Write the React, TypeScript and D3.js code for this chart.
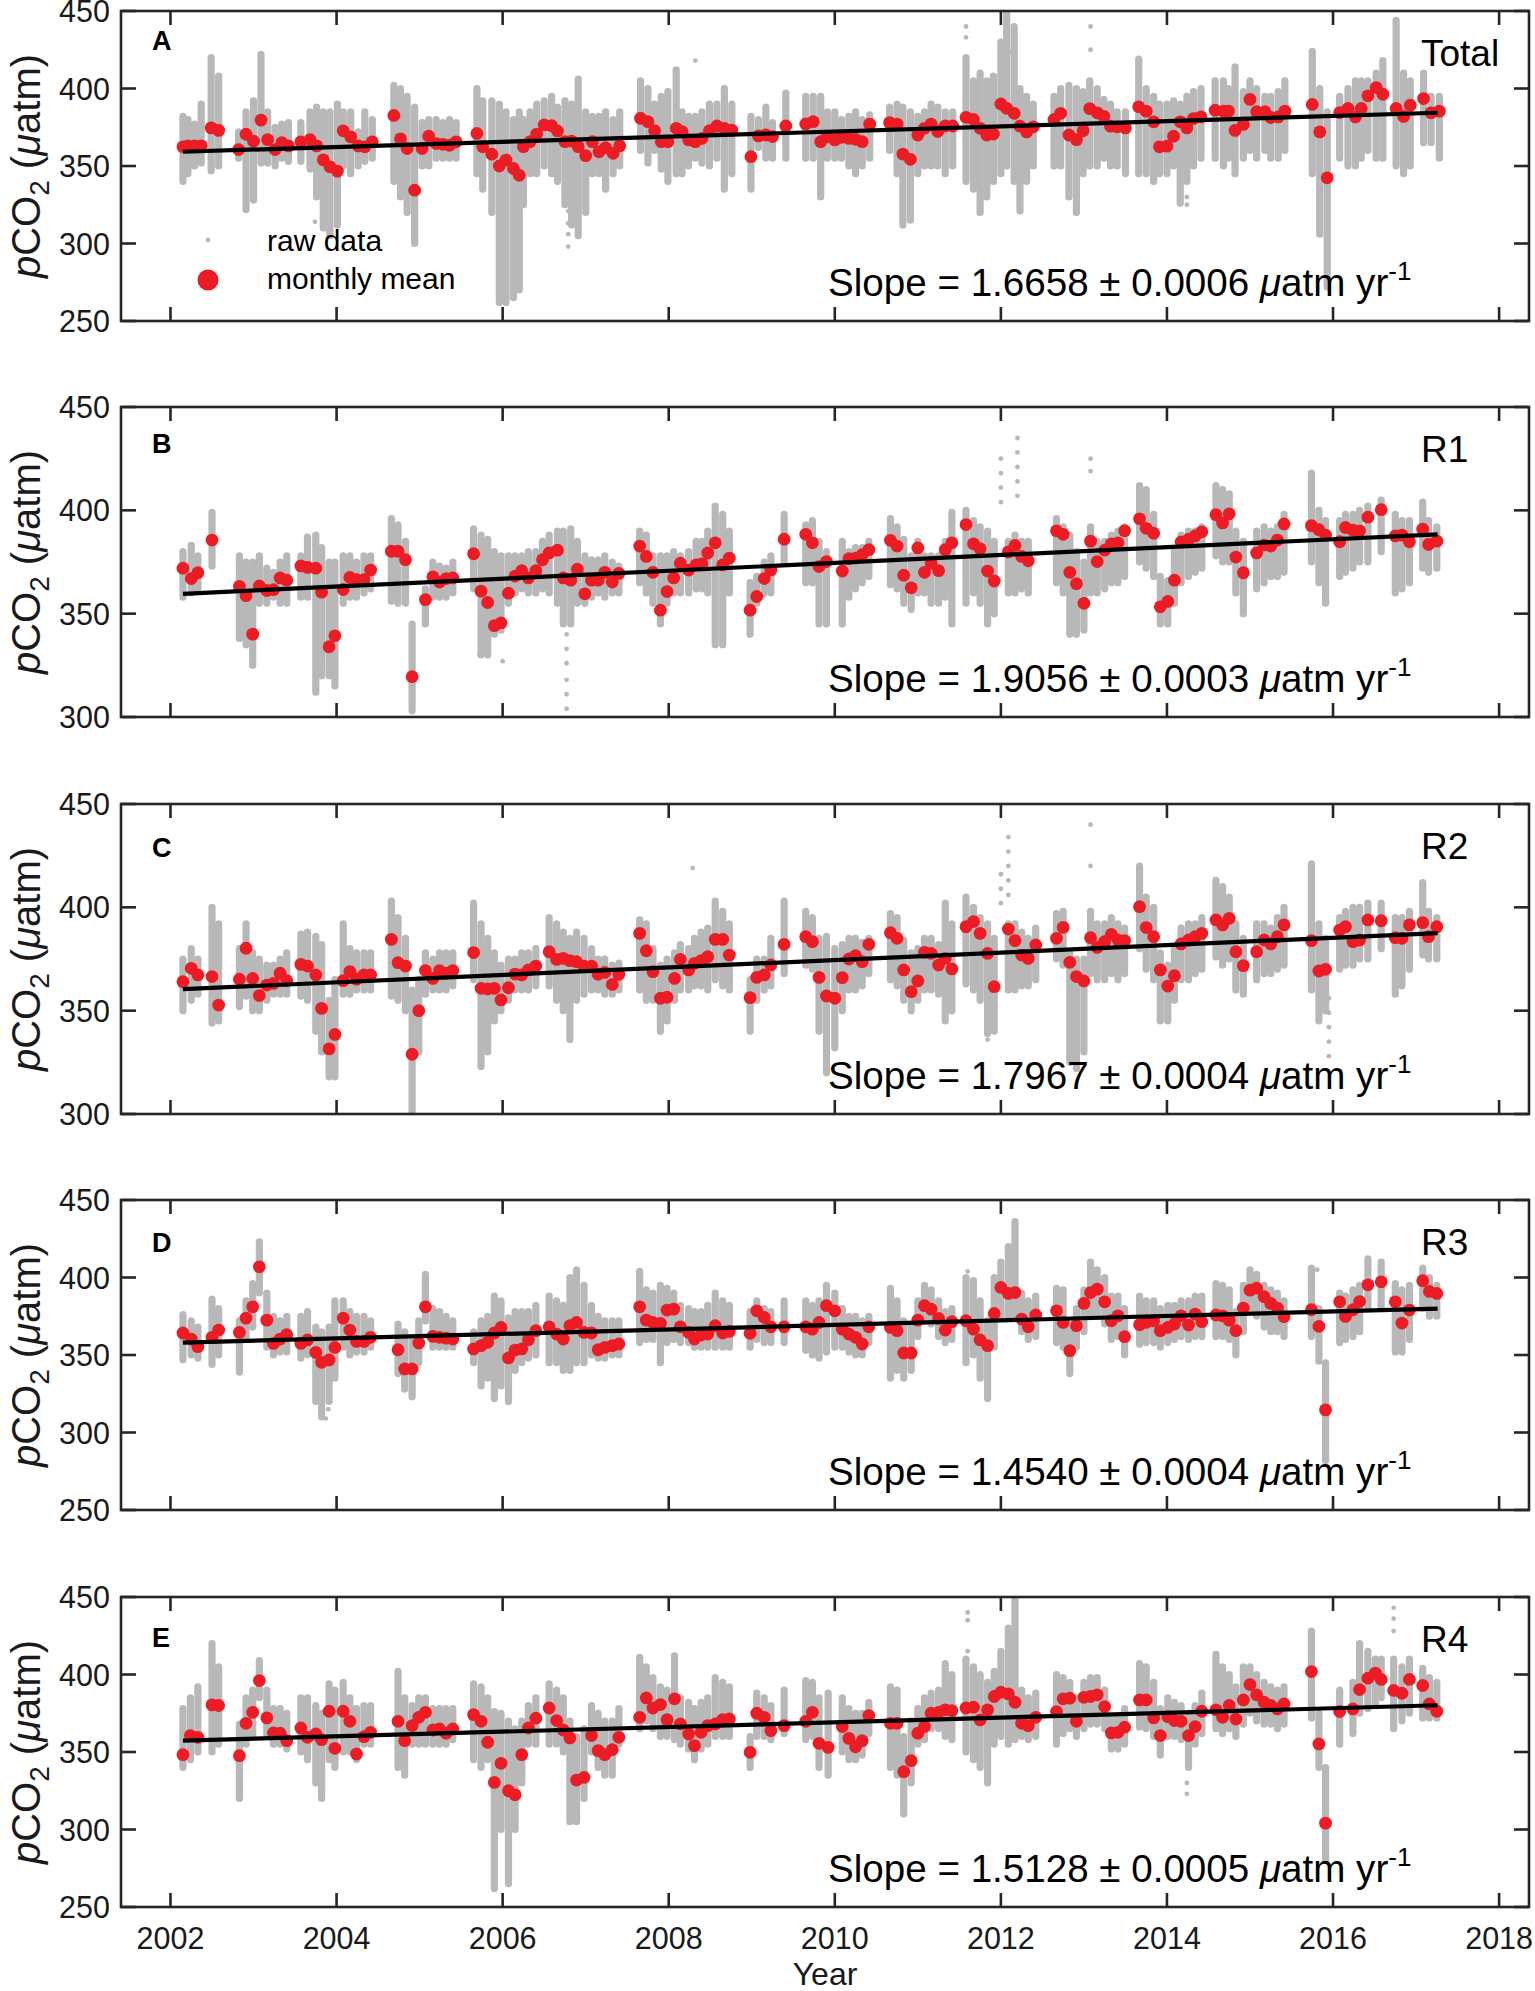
import * as d3 from 'd3'

// rows: [decimal year, monthly mean, raw min, raw max]  (pCO2, µatm)
const TOTAL_ROWS = [
  [2002.15, 362.4, 340, 382], [2002.21, 363, 345, 380], [2002.29, 363, 350, 377], [2002.37, 363, 352, 390],
  [2002.49, 374.6, 347, 420], [2002.58, 373, 350, 408], [2002.82, 360.6, 355, 372], [2002.91, 370.5, 322, 385],
  [2003.0, 366, 328, 392], [2003.09, 379.6, 352, 422], [2003.17, 367, 352, 385], [2003.26, 360.6, 350, 375],
  [2003.34, 365, 355, 377], [2003.42, 363, 353, 378], [2003.57, 365.6, 353, 378], [2003.68, 367, 348, 385],
  [2003.76, 363, 330, 388], [2003.84, 354, 310, 385], [2003.92, 349.5, 305, 385], [2004.01, 346.7, 312, 390],
  [2004.08, 372.7, 350, 385], [2004.17, 368.8, 345, 385], [2004.26, 363, 350, 372], [2004.34, 362.4, 353, 385],
  [2004.43, 365.6, 355, 380], [2004.69, 382.6, 340, 402], [2004.77, 367.5, 330, 400], [2004.85, 361.3, 320, 395],
  [2004.94, 334.4, 300, 388], [2005.03, 361.3, 350, 378], [2005.11, 369.2, 350, 380], [2005.2, 364.5, 355, 380],
  [2005.28, 364, 355, 378], [2005.36, 363.4, 355, 380], [2005.44, 365.6, 355, 378], [2005.69, 371, 345, 400],
  [2005.76, 362.4, 335, 392], [2005.87, 357.6, 320, 392], [2005.96, 350, 262, 390], [2006.04, 353.8, 262, 385],
  [2006.13, 348.4, 265, 380], [2006.2, 344, 270, 385], [2006.25, 362.5, 325, 380], [2006.33, 365.7, 345, 385],
  [2006.41, 370.6, 345, 390], [2006.5, 376.5, 350, 392], [2006.59, 376, 345, 395], [2006.66, 372.6, 340, 388],
  [2006.75, 365.7, 325, 392], [2006.83, 366, 312, 390], [2006.91, 362.5, 305, 406], [2007.0, 356.7, 320, 385],
  [2007.08, 365.7, 345, 382], [2007.16, 359.2, 345, 382], [2007.24, 361.8, 335, 385], [2007.33, 358.2, 345, 380],
  [2007.41, 363, 350, 385], [2007.66, 380.8, 360, 405], [2007.75, 378.6, 352, 400], [2007.83, 372.8, 360, 390],
  [2007.91, 365.7, 348, 395], [2007.99, 365.7, 340, 398], [2008.09, 374.3, 345, 412], [2008.16, 372.2, 345, 385],
  [2008.24, 366.8, 350, 382], [2008.32, 365.7, 355, 382], [2008.4, 367.8, 352, 385], [2008.49, 372.8, 350, 390],
  [2008.58, 375.8, 355, 390], [2008.67, 374.3, 335, 400], [2008.76, 373.2, 345, 390], [2008.99, 356, 335, 382],
  [2009.08, 369.4, 362, 380], [2009.17, 370, 355, 388], [2009.25, 369, 355, 378], [2009.41, 375.8, 355, 397],
  [2009.65, 377.1, 355, 395], [2009.74, 378.6, 355, 395], [2009.83, 365.7, 330, 395], [2009.91, 369, 355, 385],
  [2010.0, 366.8, 355, 385], [2010.08, 368.5, 355, 380], [2010.17, 367.8, 350, 382], [2010.25, 367.2, 345, 385],
  [2010.33, 365.7, 350, 380], [2010.42, 377, 355, 383], [2010.66, 378, 360, 388], [2010.75, 377, 345, 390],
  [2010.82, 357.7, 312, 388], [2010.91, 354.3, 315, 385], [2011.0, 370, 345, 382], [2011.08, 374.3, 350, 385],
  [2011.16, 377, 350, 390], [2011.24, 372.2, 350, 388], [2011.33, 375.8, 345, 385], [2011.42, 375.8, 350, 385],
  [2011.58, 381.4, 340, 420], [2011.67, 380, 335, 405], [2011.75, 374.3, 320, 410], [2011.83, 370, 330, 405],
  [2011.91, 370.6, 340, 408], [2012.0, 390, 345, 430], [2012.07, 387.2, 350, 452], [2012.16, 384, 340, 440],
  [2012.23, 375.7, 321, 400], [2012.31, 372, 340, 395], [2012.39, 375.3, 350, 390], [2012.64, 380, 350, 395],
  [2012.72, 384, 350, 400], [2012.82, 370, 330, 402], [2012.91, 367, 320, 400], [2012.99, 372.7, 345, 398],
  [2013.07, 387, 350, 405], [2013.16, 384.3, 350, 400], [2013.24, 382, 355, 393], [2013.32, 375.7, 350, 390],
  [2013.4, 375.3, 350, 385], [2013.5, 374.6, 345, 385], [2013.66, 388.2, 345, 419], [2013.75, 385.4, 345, 400],
  [2013.84, 378.5, 340, 395], [2013.91, 362.4, 345, 390], [2014.0, 362.8, 345, 390], [2014.08, 369.2, 350, 392],
  [2014.16, 378.5, 326, 390], [2014.24, 374.6, 340, 395], [2014.32, 380.6, 350, 398], [2014.41, 381.7, 355, 400],
  [2014.58, 386, 355, 405], [2014.68, 385.4, 350, 405], [2014.74, 385.4, 355, 400], [2014.82, 373, 345, 414],
  [2014.92, 376.8, 355, 398], [2015.0, 393, 360, 405], [2015.08, 385, 355, 400], [2015.18, 385, 360, 395],
  [2015.25, 381.3, 355, 395], [2015.34, 381.7, 355, 398], [2015.42, 385.4, 360, 405], [2015.75, 389.7, 345, 424],
  [2015.84, 372, 306, 400], [2015.93, 342.4, 272, 385], [2016.08, 384.5, 355, 395], [2016.18, 387.1, 350, 400],
  [2016.27, 381.7, 350, 405], [2016.34, 387.1, 355, 405], [2016.42, 395.3, 360, 405], [2016.52, 400.6, 355, 410],
  [2016.6, 396.3, 355, 418], [2016.76, 387.1, 350, 444], [2016.85, 382, 345, 410], [2016.93, 389.2, 350, 405],
  [2017.09, 393.5, 365, 410], [2017.18, 384.3, 365, 395], [2017.28, 385.4, 355, 395],
]

const R1_ROWS = [
  [2002.15, 372, 358, 380], [2002.25, 367, 360, 383], [2002.33, 369.8, 362, 378], [2002.5, 385.6, 373, 399],
  [2002.83, 363.2, 338, 378], [2002.91, 358.7, 335, 375], [2002.99, 340.1, 325, 375], [2003.07, 363.4, 355, 378],
  [2003.16, 361.2, 355, 372], [2003.24, 361.6, 358, 370], [2003.32, 367.3, 355, 375], [2003.4, 366.2, 355, 378],
  [2003.57, 373.1, 358, 378], [2003.65, 372.4, 358, 387], [2003.75, 372, 312, 388], [2003.82, 360.4, 320, 382],
  [2003.91, 334, 320, 375], [2003.98, 339.3, 315, 375], [2004.08, 361.7, 355, 378], [2004.16, 367.5, 358, 378],
  [2004.24, 366.5, 358, 375], [2004.33, 366.5, 360, 378], [2004.41, 371.1, 362, 378], [2004.66, 380.2, 356, 396],
  [2004.74, 380.2, 355, 393], [2004.83, 376.1, 355, 385], [2004.91, 319.5, 303, 345], [2005.07, 356.8, 345, 362],
  [2005.16, 367.8, 358, 375], [2005.24, 365.3, 358, 373], [2005.32, 367, 358, 372], [2005.4, 367.3, 360, 375],
  [2005.65, 379, 362, 391], [2005.74, 360.9, 330, 388], [2005.82, 355.4, 330, 386], [2005.9, 344.2, 340, 380],
  [2005.98, 345.5, 342, 378], [2006.07, 359.9, 355, 378], [2006.15, 368.2, 360, 378], [2006.23, 370.8, 362, 378],
  [2006.31, 367.3, 360, 380], [2006.4, 370.8, 360, 380], [2006.48, 376.1, 362, 385], [2006.56, 379.4, 360, 388],
  [2006.66, 380.7, 355, 390], [2006.73, 367.3, 345, 390], [2006.82, 366.2, 345, 391], [2006.9, 371.5, 355, 385],
  [2006.99, 359.6, 355, 378], [2007.07, 366.2, 358, 376], [2007.15, 366.2, 360, 376], [2007.23, 370, 358, 378],
  [2007.32, 365.3, 360, 375], [2007.4, 369.5, 360, 373], [2007.65, 382.7, 365, 390], [2007.73, 377.7, 360, 388],
  [2007.81, 370, 355, 378], [2007.9, 351.7, 345, 378], [2007.98, 360.7, 355, 378], [2008.06, 367.3, 360, 380],
  [2008.14, 374.4, 360, 378], [2008.24, 371.1, 360, 380], [2008.33, 373.6, 362, 385], [2008.4, 374.1, 362, 385],
  [2008.47, 379.4, 360, 390], [2008.56, 384.3, 335, 402], [2008.65, 373.6, 335, 398], [2008.73, 376.9, 360, 390],
  [2008.98, 351.7, 340, 365], [2009.06, 358.3, 355, 368], [2009.15, 367, 360, 375], [2009.23, 371.1, 360, 378],
  [2009.39, 386, 375, 398], [2009.65, 388.4, 365, 393], [2009.73, 384.3, 365, 395], [2009.81, 372.8, 345, 385],
  [2009.9, 375.2, 345, 380], [2010.09, 370.6, 345, 385], [2010.17, 376.6, 358, 380], [2010.25, 376.9, 362, 382],
  [2010.33, 378.5, 365, 382], [2010.41, 381, 368, 385], [2010.67, 385.5, 364, 396], [2010.75, 382.7, 362, 392],
  [2010.83, 368.6, 355, 386], [2010.92, 362.5, 352, 378], [2011.0, 381.8, 360, 385], [2011.08, 370, 360, 378],
  [2011.16, 374.4, 355, 378], [2011.25, 370.8, 355, 378], [2011.33, 381, 358, 385], [2011.41, 384.3, 345, 399],
  [2011.58, 393.1, 355, 400], [2011.67, 383.8, 360, 395], [2011.75, 381.4, 355, 392], [2011.84, 370.6, 345, 390],
  [2011.92, 365.8, 350, 385], [2012.09, 379.9, 360, 385], [2012.17, 383, 360, 388], [2012.25, 377.7, 362, 385],
  [2012.33, 375.6, 360, 385], [2012.67, 390.1, 365, 396], [2012.75, 388.4, 360, 392], [2012.83, 370, 340, 388],
  [2012.91, 364.5, 340, 380], [2013.0, 355, 342, 375], [2013.08, 385.1, 360, 392], [2013.16, 375.2, 360, 385],
  [2013.25, 380.7, 362, 385], [2013.33, 383.8, 365, 388], [2013.41, 384.3, 365, 390], [2013.49, 390.1, 368, 392],
  [2013.67, 395.9, 375, 412], [2013.75, 391.3, 372, 410], [2013.84, 388.9, 368, 398], [2013.92, 353.3, 345, 368],
  [2014.01, 355.9, 345, 366], [2014.09, 366.2, 355, 380], [2014.17, 384.7, 365, 388], [2014.26, 386, 368, 390],
  [2014.34, 387.6, 370, 390], [2014.42, 389.6, 372, 392], [2014.59, 397.9, 378, 412], [2014.67, 393.9, 375, 410],
  [2014.75, 398.3, 375, 408], [2014.83, 377.4, 360, 390], [2014.92, 369.8, 350, 385], [2015.08, 379.4, 362, 390],
  [2015.17, 383.2, 365, 392], [2015.25, 382.7, 368, 390], [2015.33, 385.6, 368, 392], [2015.41, 393.4, 370, 398],
  [2015.74, 392.6, 375, 418], [2015.83, 390.6, 365, 400], [2015.91, 388, 355, 395], [2016.08, 384.8, 368, 395],
  [2016.15, 391.7, 370, 398], [2016.24, 390.4, 372, 398], [2016.32, 390.1, 375, 400], [2016.42, 396.7, 375, 402],
  [2016.58, 400.3, 380, 405], [2016.75, 387.6, 360, 398], [2016.83, 388, 362, 395], [2016.92, 384.8, 365, 395],
  [2017.08, 390.9, 372, 404], [2017.15, 383.5, 370, 395], [2017.25, 385.1, 372, 392],
]

const R2_ROWS = [
  [2002.15, 364, 350, 375], [2002.25, 370.5, 355, 380], [2002.33, 367.3, 358, 375], [2002.5, 366.5, 344, 400],
  [2002.58, 352.7, 345, 392], [2002.83, 365.2, 352, 380], [2002.91, 380.2, 357, 392], [2002.99, 365.6, 350, 378],
  [2003.07, 357.3, 350, 375], [2003.16, 362.4, 355, 372], [2003.24, 363.2, 358, 372], [2003.32, 368.1, 358, 375],
  [2003.4, 364.5, 358, 378], [2003.57, 372.4, 357, 387], [2003.65, 371.6, 355, 388], [2003.75, 367.3, 340, 386],
  [2003.82, 351.1, 330, 382], [2003.91, 331.5, 318, 355], [2003.98, 338.5, 318, 365], [2004.08, 364.5, 358, 392],
  [2004.16, 368.9, 358, 380], [2004.24, 365.2, 360, 378], [2004.33, 367.3, 360, 378], [2004.41, 367.3, 360, 378],
  [2004.66, 384.5, 357, 403], [2004.74, 373.2, 355, 395], [2004.83, 371.6, 350, 385], [2004.91, 328.9, 300, 360],
  [2004.99, 350, 330, 365], [2005.07, 369.4, 358, 378], [2005.16, 365.6, 360, 375], [2005.24, 369.4, 360, 378],
  [2005.32, 368.1, 360, 378], [2005.4, 369.4, 362, 378], [2005.65, 378.1, 365, 402], [2005.74, 360.8, 323, 392],
  [2005.82, 360.5, 330, 385], [2005.9, 360.8, 345, 378], [2005.98, 355.2, 350, 372], [2006.07, 361.1, 355, 375],
  [2006.15, 367.7, 360, 375], [2006.23, 367.3, 360, 378], [2006.31, 369.7, 360, 378], [2006.4, 371.6, 362, 380],
  [2006.56, 378.5, 362, 395], [2006.65, 374.8, 355, 392], [2006.73, 375.3, 350, 388], [2006.81, 374.2, 336, 385],
  [2006.89, 373.7, 355, 388], [2006.98, 371.6, 358, 385], [2007.07, 371.6, 360, 380], [2007.15, 367.6, 360, 375],
  [2007.23, 368.5, 358, 375], [2007.32, 362.7, 358, 372], [2007.4, 367.6, 360, 373], [2007.65, 387.4, 360, 394],
  [2007.73, 379, 355, 392], [2007.81, 368.9, 355, 380], [2007.9, 356, 340, 372], [2007.98, 356.5, 345, 375],
  [2008.07, 365.6, 355, 378], [2008.14, 374.8, 360, 382], [2008.24, 369.7, 360, 380], [2008.31, 372.9, 362, 385],
  [2008.39, 374.2, 362, 388], [2008.47, 376.1, 360, 390], [2008.56, 384.5, 365, 403], [2008.65, 384.5, 362, 398],
  [2008.73, 376.9, 360, 392], [2008.98, 356.3, 340, 365], [2009.06, 366.1, 355, 375], [2009.15, 367.3, 360, 375],
  [2009.23, 372.1, 362, 385], [2009.39, 382.1, 368, 403], [2009.65, 385.8, 372, 398], [2009.73, 383.4, 370, 395],
  [2009.81, 366.1, 340, 385], [2009.9, 357.1, 320, 386], [2010.0, 356, 332, 380], [2010.09, 366, 350, 382],
  [2010.17, 375, 360, 385], [2010.25, 376.6, 360, 385], [2010.33, 373.7, 362, 383], [2010.41, 382.1, 368, 385],
  [2010.67, 387.7, 365, 397], [2010.75, 385, 362, 395], [2010.83, 369.7, 355, 384], [2010.92, 359.2, 350, 378],
  [2011.0, 364.4, 355, 380], [2011.08, 378.2, 360, 385], [2011.16, 377.7, 360, 385], [2011.25, 372.1, 358, 382],
  [2011.33, 375.3, 345, 402], [2011.41, 370.2, 350, 392], [2011.58, 390.6, 363, 405], [2011.67, 393.1, 360, 400],
  [2011.75, 387.4, 355, 395], [2011.84, 377.7, 339, 392], [2011.92, 361.6, 340, 385], [2012.09, 389.5, 360, 392],
  [2012.17, 383.9, 360, 392], [2012.25, 376.9, 362, 388], [2012.33, 375.3, 362, 385], [2012.42, 381.8, 365, 390],
  [2012.67, 385, 375, 397], [2012.75, 390.3, 372, 398], [2012.83, 373.4, 325, 378], [2012.91, 366.5, 322, 375],
  [2013.0, 364.4, 330, 375], [2013.08, 385.3, 368, 398], [2013.16, 380.6, 365, 392], [2013.25, 383.4, 365, 392],
  [2013.33, 386.9, 368, 395], [2013.41, 384.2, 365, 392], [2013.49, 383.9, 368, 390], [2013.67, 400.3, 380, 420],
  [2013.75, 390.2, 370, 405], [2013.84, 385.8, 365, 400], [2013.92, 369.7, 345, 378], [2014.01, 361.9, 345, 372],
  [2014.09, 366.9, 355, 380], [2014.17, 382.3, 365, 390], [2014.26, 384.2, 365, 392], [2014.34, 385.8, 368, 392],
  [2014.42, 387.4, 370, 395], [2014.59, 393.9, 376, 413], [2014.67, 391.5, 372, 410], [2014.75, 394.7, 375, 405],
  [2014.83, 378.5, 360, 392], [2014.92, 371.8, 358, 385], [2015.08, 378.5, 365, 392], [2015.17, 384.2, 368, 392],
  [2015.25, 382.3, 368, 390], [2015.33, 385.8, 370, 395], [2015.41, 391.5, 372, 400], [2015.74, 383.9, 360, 421],
  [2015.83, 369.2, 345, 392], [2015.91, 370, 350, 385], [2016.08, 389, 370, 395], [2016.15, 390.6, 372, 398],
  [2016.24, 383.4, 372, 400], [2016.32, 384.2, 375, 400], [2016.42, 393.9, 375, 402], [2016.58, 393.5, 380, 402],
  [2016.75, 385.3, 358, 395], [2016.83, 385, 362, 395], [2016.92, 391.5, 370, 398], [2017.08, 392.6, 377, 412],
  [2017.15, 385.8, 375, 398], [2017.25, 390.6, 375, 395],
]

const R3_ROWS = [
  [2002.15, 364.2, 347, 376], [2002.25, 360.3, 350, 372], [2002.33, 355.4, 348, 368], [2002.5, 361.4, 344, 386],
  [2002.58, 366.1, 350, 380], [2002.83, 364.6, 339, 372], [2002.91, 373.8, 360, 385], [2002.99, 381.1, 368, 396],
  [2003.07, 406.9, 390, 423], [2003.16, 372.5, 355, 390], [2003.24, 357.5, 350, 375], [2003.32, 360.3, 352, 372],
  [2003.4, 363.1, 352, 375], [2003.57, 357.5, 348, 375], [2003.65, 359.7, 350, 378], [2003.75, 351.7, 320, 368],
  [2003.82, 345.3, 310, 365], [2003.91, 346.8, 320, 368], [2003.98, 354.9, 335, 385], [2004.08, 373.8, 355, 385],
  [2004.16, 366.1, 350, 378], [2004.24, 358.8, 352, 375], [2004.33, 358.8, 352, 375], [2004.41, 361.4, 355, 372],
  [2004.74, 353.4, 338, 370], [2004.82, 341, 328, 365], [2004.91, 341, 323, 360], [2004.99, 357.7, 345, 372],
  [2005.07, 381.1, 372, 402], [2005.16, 362, 355, 380], [2005.24, 361.4, 355, 378], [2005.32, 360.9, 355, 375],
  [2005.4, 360.3, 355, 372], [2005.65, 353.9, 345, 365], [2005.74, 356, 330, 372], [2005.82, 358.2, 335, 375],
  [2005.9, 364.2, 322, 388], [2005.98, 367.8, 330, 385], [2006.07, 348.1, 320, 374], [2006.15, 353.2, 340, 378],
  [2006.23, 353.9, 345, 378], [2006.31, 359.9, 348, 378], [2006.4, 365.7, 350, 382], [2006.56, 368.2, 345, 388],
  [2006.65, 363.5, 345, 385], [2006.73, 360.3, 340, 382], [2006.81, 368.9, 340, 400], [2006.89, 371, 345, 405],
  [2006.98, 364.6, 345, 395], [2007.07, 364.2, 350, 382], [2007.15, 353.4, 348, 375], [2007.23, 354.9, 348, 372],
  [2007.32, 356, 350, 372], [2007.4, 357.1, 350, 372], [2007.65, 381.1, 358, 404], [2007.73, 372.5, 360, 392],
  [2007.81, 371, 360, 390], [2007.9, 370.4, 345, 395], [2007.98, 379, 358, 393], [2008.06, 379.6, 360, 390],
  [2008.14, 368.2, 358, 382], [2008.24, 364.6, 358, 380], [2008.31, 360.3, 355, 378], [2008.39, 362.9, 355, 378],
  [2008.47, 363.5, 355, 382], [2008.56, 368.9, 355, 390], [2008.65, 364.2, 355, 385], [2008.73, 365.2, 355, 382],
  [2008.98, 364, 355, 378], [2009.06, 378.5, 360, 385], [2009.15, 374.2, 358, 380], [2009.23, 368.2, 358, 378],
  [2009.39, 368.2, 358, 385], [2009.65, 368.2, 353, 385], [2009.73, 366.7, 350, 382], [2009.81, 371, 348, 385],
  [2009.9, 381.8, 352, 395], [2010.0, 378.5, 355, 390], [2010.09, 366.7, 355, 380], [2010.17, 363.5, 352, 375],
  [2010.25, 361.4, 350, 375], [2010.33, 357.1, 350, 372], [2010.41, 368.2, 358, 375], [2010.67, 367.8, 335, 393],
  [2010.75, 365.7, 340, 385], [2010.83, 351.3, 335, 372], [2010.92, 351.3, 340, 370], [2011.0, 372.5, 362, 385],
  [2011.08, 381.8, 372, 395], [2011.16, 379.6, 370, 392], [2011.25, 373.6, 362, 385], [2011.33, 366.1, 358, 378],
  [2011.41, 371.5, 360, 380], [2011.58, 372.1, 345, 400], [2011.67, 366.7, 350, 398], [2011.75, 359.7, 335, 385],
  [2011.84, 356, 322, 372], [2011.92, 376.8, 355, 400], [2012.0, 393.6, 375, 410], [2012.09, 389.7, 375, 420],
  [2012.17, 390.3, 375, 436], [2012.25, 373.2, 365, 390], [2012.33, 368.2, 360, 385], [2012.42, 375.8, 362, 388],
  [2012.67, 378.5, 358, 393], [2012.75, 371, 355, 392], [2012.83, 352.8, 338, 370], [2012.91, 368.9, 355, 380],
  [2013.0, 383.3, 365, 392], [2013.08, 390.3, 375, 410], [2013.16, 392.5, 375, 405], [2013.25, 384.3, 370, 400],
  [2013.33, 372.1, 360, 388], [2013.41, 375.3, 362, 388], [2013.49, 361.8, 350, 380], [2013.67, 369.5, 357, 388],
  [2013.75, 371, 358, 385], [2013.84, 372.1, 358, 385], [2013.92, 365.7, 355, 380], [2014.01, 367.8, 358, 382],
  [2014.09, 370, 360, 382], [2014.17, 375.3, 362, 385], [2014.26, 369.3, 360, 385], [2014.34, 376.4, 362, 388],
  [2014.42, 371.5, 362, 388], [2014.59, 375.8, 362, 396], [2014.67, 375.3, 362, 395], [2014.75, 372.5, 360, 392],
  [2014.83, 365.7, 350, 378], [2014.92, 380.3, 365, 395], [2015.0, 391.8, 378, 405], [2015.08, 393.1, 375, 402],
  [2015.17, 387.6, 368, 395], [2015.25, 383.3, 365, 392], [2015.33, 380.3, 365, 390], [2015.41, 374.7, 362, 385],
  [2015.74, 379.2, 362, 406], [2015.83, 368.5, 346, 380], [2015.91, 314.6, 282, 345], [2016.08, 384.3, 358, 390],
  [2016.15, 374.9, 360, 388], [2016.24, 379.2, 362, 392], [2016.32, 384.5, 365, 395], [2016.42, 395.3, 380, 412],
  [2016.58, 397.2, 380, 410], [2016.75, 384.3, 352, 396], [2016.83, 370.6, 352, 392], [2016.92, 379, 360, 395],
  [2017.08, 397.9, 380, 406], [2017.16, 391, 375, 400], [2017.25, 389.7, 375, 395],
]

const R4_ROWS = [
  [2002.15, 348.3, 340, 378], [2002.24, 360.6, 345, 385], [2002.33, 359.5, 350, 392], [2002.5, 380.4, 350, 420],
  [2002.58, 380, 355, 405], [2002.83, 347.6, 320, 368], [2002.91, 368.5, 355, 385], [2002.99, 375.6, 360, 390],
  [2003.07, 396.1, 385, 409], [2003.16, 372, 360, 390], [2003.24, 362.3, 355, 378], [2003.32, 362.1, 355, 378],
  [2003.4, 357.3, 352, 375], [2003.57, 365.5, 350, 385], [2003.65, 359.5, 345, 385], [2003.75, 361.6, 330, 380],
  [2003.82, 358, 320, 375], [2003.91, 376.3, 345, 394], [2003.98, 352.4, 340, 390], [2004.08, 376.3, 350, 395],
  [2004.16, 369.8, 350, 385], [2004.24, 348.7, 345, 378], [2004.33, 359.9, 355, 380], [2004.41, 362.7, 355, 380],
  [2004.74, 369.8, 340, 402], [2004.82, 357.3, 335, 385], [2004.91, 367, 355, 380], [2004.99, 372.4, 355, 385],
  [2005.07, 375.6, 355, 385], [2005.16, 364.2, 355, 378], [2005.24, 364.9, 355, 378], [2005.32, 362.1, 355, 378],
  [2005.4, 364.9, 358, 378], [2005.65, 374.1, 345, 394], [2005.74, 369.8, 340, 392], [2005.82, 356.3, 345, 385],
  [2005.9, 330.4, 262, 376], [2005.98, 342.7, 300, 375], [2006.07, 325, 265, 370], [2006.15, 322.4, 300, 365],
  [2006.23, 348.3, 330, 370], [2006.31, 365.5, 355, 380], [2006.4, 371.8, 355, 385], [2006.56, 378.4, 355, 394],
  [2006.65, 370.3, 355, 390], [2006.73, 364.2, 350, 385], [2006.81, 359.1, 305, 370], [2006.89, 331.9, 305, 360],
  [2006.98, 333.6, 320, 365], [2007.07, 360.6, 350, 380], [2007.15, 350.9, 340, 375], [2007.23, 348.3, 335, 370],
  [2007.32, 351.5, 335, 370], [2007.4, 359.5, 355, 378], [2007.65, 372.4, 365, 411], [2007.73, 384.9, 370, 405],
  [2007.81, 378.4, 365, 398], [2007.9, 380.6, 360, 392], [2007.98, 370.9, 360, 390], [2008.07, 384.3, 358, 412],
  [2008.14, 368.1, 355, 385], [2008.24, 361.6, 352, 382], [2008.31, 354.1, 345, 378], [2008.39, 362.7, 352, 382],
  [2008.47, 367, 355, 385], [2008.56, 368.1, 360, 398], [2008.65, 370.9, 360, 395], [2008.73, 371.3, 360, 392],
  [2008.98, 349.8, 340, 360], [2009.06, 375, 360, 388], [2009.15, 372.4, 360, 385], [2009.23, 363.8, 358, 380],
  [2009.39, 367, 362, 390], [2009.65, 369.8, 358, 396], [2009.73, 375.6, 360, 395], [2009.81, 355.6, 340, 385],
  [2009.92, 353, 335, 388], [2010.09, 366.4, 350, 385], [2010.17, 358.8, 345, 378], [2010.25, 353.4, 345, 375],
  [2010.33, 357.3, 348, 375], [2010.41, 373.5, 362, 382], [2010.67, 368.5, 340, 392], [2010.75, 368.5, 335, 390],
  [2010.83, 337.3, 310, 360], [2010.92, 344.4, 330, 370], [2011.0, 362.1, 355, 378], [2011.08, 366.4, 358, 385],
  [2011.16, 375, 365, 388], [2011.25, 375.6, 365, 390], [2011.33, 377.2, 360, 407], [2011.41, 376.7, 358, 400],
  [2011.58, 378.4, 350, 410], [2011.67, 378.9, 345, 405], [2011.75, 370.7, 340, 400], [2011.84, 377.2, 330, 395],
  [2011.92, 385.8, 355, 402], [2012.0, 388.6, 360, 415], [2012.09, 387.5, 355, 430], [2012.17, 382.1, 358, 452],
  [2012.25, 368.5, 360, 390], [2012.33, 367, 358, 385], [2012.42, 372.4, 360, 388], [2012.67, 376.1, 355, 400],
  [2012.75, 384.3, 362, 398], [2012.83, 384.7, 365, 395], [2012.91, 369.8, 360, 385], [2013.0, 385.3, 365, 395],
  [2013.08, 385.8, 368, 398], [2013.16, 386.9, 368, 398], [2013.25, 379.3, 365, 390], [2013.33, 362.3, 352, 372],
  [2013.41, 362.7, 352, 372], [2013.49, 366, 355, 378], [2013.67, 383.6, 366, 407], [2013.75, 383.6, 365, 405],
  [2013.84, 372, 360, 395], [2013.92, 360.6, 348, 378], [2014.01, 372.8, 360, 385], [2014.09, 370.3, 360, 382],
  [2014.17, 369.8, 358, 380], [2014.26, 360.6, 340, 375], [2014.34, 366.4, 355, 380], [2014.42, 376.3, 362, 388],
  [2014.59, 377.2, 365, 413], [2014.67, 372.4, 362, 405], [2014.75, 380, 365, 400], [2014.83, 371.3, 360, 392],
  [2014.92, 383.6, 368, 405], [2015.0, 393.5, 375, 405], [2015.08, 386.9, 370, 400], [2015.17, 382.1, 368, 395],
  [2015.25, 380, 368, 392], [2015.33, 377.8, 365, 390], [2015.41, 381, 368, 392], [2015.74, 401.9, 372, 428],
  [2015.83, 355.2, 340, 375], [2015.91, 304.1, 280, 340], [2016.08, 376.1, 355, 390], [2016.24, 377.8, 362, 395],
  [2016.32, 390.3, 375, 420], [2016.42, 397.6, 378, 415], [2016.51, 400.9, 380, 410], [2016.58, 396.8, 385, 410],
  [2016.73, 389.7, 365, 410], [2016.83, 387.9, 370, 405], [2016.92, 396.8, 375, 410], [2017.08, 392.9, 372, 404],
  [2017.16, 381, 372, 398], [2017.25, 376.3, 372, 395],
]

// isolated raw points outside the dense monthly ranges: [decimal year, pCO2]
const TOTAL_OUT = [
  [2006.79, 321], [2006.79, 313], [2006.79, 306], [2006.79, 298], [2006.0, 291], [2006.0, 285],
  [2008.32, 418], [2011.58, 440], [2011.58, 433], [2011.58, 417], [2012.1, 423], [2013.08, 440],
  [2013.08, 425], [2014.24, 330], [2014.24, 325], [2003.74, 314], [2003.88, 309],
]
const R1_OUT = [
  [2006.77, 340], [2006.77, 333], [2006.77, 326], [2006.77, 318], [2006.77, 311], [2006.77, 304],
  [2006.77, 299], [2012.0, 425], [2012.0, 418], [2012.0, 411], [2012.0, 404], [2012.2, 435],
  [2012.2, 428], [2012.2, 421], [2012.2, 414], [2012.2, 407], [2013.08, 425], [2013.08, 419],
  [2003.9, 322], [2005.72, 330], [2006.0, 327],
]
const R2_OUT = [
  [2008.29, 419], [2013.08, 440], [2013.08, 420], [2012.09, 434], [2012.09, 427], [2012.09, 420],
  [2012.09, 413], [2012.09, 406], [2012.0, 416], [2012.0, 409], [2012.0, 402], [2015.95, 356],
  [2015.95, 349], [2015.95, 342], [2015.95, 335], [2015.95, 328], [2011.84, 336],
]
const R3_OUT = [
  [2003.87, 309], [2003.9, 315], [2011.6, 404], [2015.81, 405],
]
const R4_OUT = [
  [2011.6, 440], [2011.6, 435], [2011.6, 415], [2016.73, 443], [2016.73, 436], [2016.73, 428],
  [2014.24, 330], [2014.24, 323],
]

const PANEL_LETTERS = ['A', 'B', 'C', 'D', 'E']
const PANEL_NAMES = ['Total', 'R1', 'R2', 'R3', 'R4']
const Y_MIN = [250, 300, 300, 250, 250]
const Y_MAX = 450
const SLOPES = [1.6658, 1.9056, 1.7967, 1.454, 1.5128]
const SLOPE_ERR = ['0.0006', '0.0003', '0.0004', '0.0004', '0.0005']
const FIT_START = [359.2, 359.6, 360.4, 358.0, 357.3]
const FIT_YEARS = [2002.15, 2017.26]
const X_TICKS = [2002, 2004, 2006, 2008, 2010, 2012, 2014, 2016, 2018]

const ROWS = [TOTAL_ROWS, R1_ROWS, R2_ROWS, R3_ROWS, R4_ROWS]
const OUTS = [TOTAL_OUT, R1_OUT, R2_OUT, R3_OUT, R4_OUT]

const W = 1535
const H = 1991
const LEFT = 121
const RIGHT = 1529
const TOPS = [11, 407, 804, 1200, 1597]
const PH = 310
const LETTER_DY = [39, 46, 53, 52, 50]
const X_DOMAIN = [2001.404, 2018.36]

const FONT = "'Liberation Sans', Arial, Helvetica, sans-serif"
const AXIS = '#262626'
const GRAY = '#b8b8b8'
const RED = '#ec1c24'

const x = d3.scaleLinear().domain(X_DOMAIN).range([LEFT, RIGHT])

function Panel({ i }: { i: number }) {
  const top = TOPS[i]
  const bottom = top + PH
  const y = d3.scaleLinear().domain([Y_MIN[i], Y_MAX]).range([bottom, top])
  const yTicks = d3.range(Y_MIN[i], Y_MAX + 1, 50)
  const fit = d3
    .line<number>()
    .x((t) => x(t))
    .y((t) => y(FIT_START[i] + SLOPES[i] * (t - FIT_YEARS[0])))
  const rows = ROWS[i]
  const clipId = `clip-${i}`

  return (
    <g>
      <defs>
        <clipPath id={clipId}>
          <rect x={LEFT} y={top} width={RIGHT - LEFT} height={PH} />
        </clipPath>
      </defs>

      <g clipPath={`url(#${clipId})`}>
        {/* raw data: monthly min–max stripes */}
        {rows.map((r, k) => (
          <line key={`s${k}`} x1={x(r[0])} x2={x(r[0])} y1={y(r[2])} y2={y(r[3])}
            stroke={GRAY} strokeWidth={7.2} strokeLinecap="round" />
        ))}
        {OUTS[i].map((o, k) => (
          <circle key={`o${k}`} cx={x(o[0])} cy={y(o[1])} r={2.4} fill={GRAY} />
        ))}
        {/* monthly means */}
        {rows.map((r, k) => (
          <circle key={`m${k}`} cx={x(r[0])} cy={y(r[1])} r={6.4} fill={RED} />
        ))}
        <path d={fit(FIT_YEARS) ?? ''} fill="none" stroke="#000" strokeWidth={4.2} />
      </g>

      {/* box + inward ticks */}
      <rect x={LEFT} y={top} width={RIGHT - LEFT} height={PH} fill="none" stroke={AXIS} strokeWidth={2.6} />
      {X_TICKS.map((t) => (
        <g key={`xt${t}`} stroke={AXIS} strokeWidth={2.6}>
          <line x1={x(t)} x2={x(t)} y1={bottom} y2={bottom - 14} />
          <line x1={x(t)} x2={x(t)} y1={top} y2={top + 14} />
        </g>
      ))}
      {yTicks.map((t) => (
        <g key={`yt${t}`}>
          <line x1={LEFT} x2={LEFT + 15} y1={y(t)} y2={y(t)} stroke={AXIS} strokeWidth={2.6} />
          <line x1={RIGHT - 15} x2={RIGHT} y1={y(t)} y2={y(t)} stroke={AXIS} strokeWidth={2.6} />
          <text x={LEFT - 11} y={y(t) + 11} textAnchor="end" fontSize={30.5} fill="#1a1a1a">{t}</text>
        </g>
      ))}

      <text x={152} y={top + LETTER_DY[i]} fontSize={27} fontWeight="bold">{PANEL_LETTERS[i]}</text>
      <text x={1421} y={top + 55} fontSize={37}>{PANEL_NAMES[i]}</text>
      <text x={828} y={bottom - 25} fontSize={38.6}>
        {`Slope = ${SLOPES[i].toFixed(4)} ± ${SLOPE_ERR[i]} `}
        <tspan fontStyle="italic">μ</tspan>
        {'atm yr'}
        <tspan dy={-16} fontSize={26}>-1</tspan>
      </text>

      <text transform={`translate(40,${top + PH / 2}) rotate(-90)`} textAnchor="middle" fontSize={40} fill="#1a1a1a">
        <tspan fontStyle="italic">p</tspan>
        {'CO'}
        <tspan dy={9} fontSize={28}>2</tspan>
        <tspan dy={-9}>{' ('}</tspan>
        <tspan fontStyle="italic">μ</tspan>
        {'atm)'}
      </text>
    </g>
  )
}

export default function App() {
  const bottomE = TOPS[4] + PH
  return (
    <div style={{ position: 'absolute', left: 0, top: 0 }}>
      <svg width={W} height={H} fontFamily={FONT} style={{ display: 'block', background: '#fff' }}>
        <rect width={W} height={H} fill="#fff" />
        {PANEL_NAMES.map((_, i) => (
          <Panel key={i} i={i} />
        ))}

        {X_TICKS.map((t) => (
          <text key={t} x={x(t)} y={bottomE + 42} textAnchor="middle" fontSize={30.5} fill="#1a1a1a">{t}</text>
        ))}
        <text x={(LEFT + RIGHT) / 2} y={1985} textAnchor="middle" fontSize={32} fill="#1a1a1a">Year</text>

        {/* legend (panel A) */}
        <circle cx={208} cy={240} r={2.4} fill={GRAY} />
        <text x={267} y={251} fontSize={30}>raw data</text>
        <circle cx={208} cy={280} r={10.5} fill={RED} />
        <text x={267} y={289} fontSize={30}>monthly mean</text>
      </svg>
    </div>
  )
}
